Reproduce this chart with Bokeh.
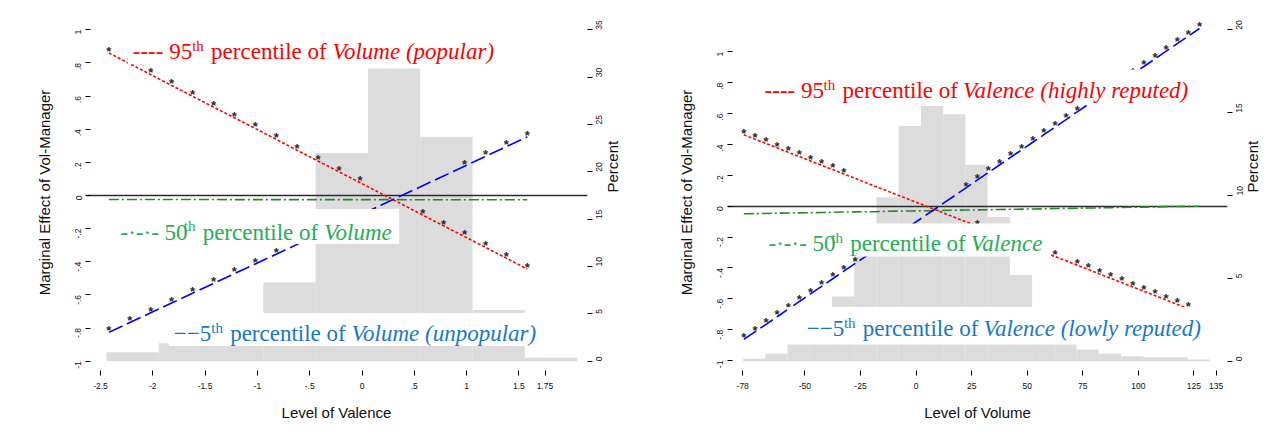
import math
from bokeh.plotting import figure
from bokeh.models import Range1d, LinearAxis, FixedTicker, Label, BoxAnnotation
from bokeh.layouts import row
from bokeh.embed import file_html
from bokeh.resources import INLINE
from bokeh.core.properties import value

# ---------------- data: left panel (Level of Valence) ----------------
valence_x = [-2.42, -2.22, -2.02, -1.82, -1.62, -1.42, -1.22, -1.02, -0.82, -0.62, -0.42,
             -0.22, -0.02, 0.18, 0.38, 0.58, 0.78, 0.98, 1.18, 1.38, 1.58]
valence_p95 = [0.860, 0.795, 0.730, 0.664, 0.599, 0.534, 0.469, 0.404, 0.339, 0.273, 0.208,
               0.143, 0.078, 0.013, -0.052, -0.118, -0.183, -0.248, -0.313, -0.378, -0.444]
valence_p95_sig = [1, 1, 1, 1, 1, 1, 1, 1, 1, 1, 1, 1, 1, 0, 0, 1, 1, 1, 1, 1, 1]
valence_p50 = [-0.024, -0.024, -0.024, -0.024, -0.024, -0.024, -0.025, -0.025, -0.025, -0.025, -0.025,
               -0.025, -0.025, -0.025, -0.025, -0.026, -0.026, -0.026, -0.026, -0.026, -0.026]
valence_p5 = [-0.826, -0.767, -0.708, -0.649, -0.590, -0.531, -0.472, -0.413, -0.354, -0.295, -0.236,
              -0.177, -0.118, -0.059, 0.000, 0.059, 0.118, 0.177, 0.236, 0.295, 0.354]
valence_p5_sig = [1, 1, 1, 1, 1, 1, 1, 1, 1, 1, 1, 1, 0, 0, 0, 0, 0, 1, 1, 1, 1]
valence_bin_edges = [-2.443, -1.943, -1.443, -0.943, -0.443, 0.057, 0.557, 1.057, 1.557, 2.057]
valence_bin_pct = [0.95, 1.9, 3.2, 8.3, 22.0, 30.9, 23.7, 5.4, 0.36]
valence_xticks = [-2.5, -2, -1.5, -1, -0.5, 0, 0.5, 1, 1.5, 1.75]
valence_xtick_labels = ["-2.5", "-2", "-1.5", "-1", "-.5", "0", ".5", "1", "1.5", "1.75"]
valence_pct_ticks = [0, 5, 10, 15, 20, 25, 30, 35]

# ---------------- data: right panel (Level of Volume) ----------------
volume_x = [-77.5, -72.5, -67.5, -62.5, -57.5, -52.5, -47.5, -42.5, -37.5, -32.5, -27.5, -22.5,
            -17.5, -12.5, -7.5, -2.5, 2.5, 7.5, 12.5, 17.5, 22.5, 27.5, 32.5, 37.5, 42.5, 47.5,
            52.5, 57.5, 62.5, 67.5, 72.5, 77.5, 82.5, 87.5, 92.5, 97.5, 102.5, 107.5, 112.5,
            117.5, 122.5, 127.5]
volume_p95 = [0.462, 0.434, 0.406, 0.378, 0.349, 0.321, 0.293, 0.265, 0.237, 0.209, 0.181, 0.152,
              0.124, 0.096, 0.068, 0.040, 0.012, -0.016, -0.045, -0.073, -0.101, -0.129, -0.157,
              -0.185, -0.213, -0.242, -0.270, -0.298, -0.326, -0.354, -0.382, -0.410, -0.439,
              -0.467, -0.495, -0.523, -0.551, -0.579, -0.607, -0.636, -0.664, -0.692]
volume_p95_sig = [1, 1, 1, 1, 1, 1, 1, 1, 1, 1, 0, 0, 0, 0, 0, 0, 0, 0, 0, 0, 0, 1, 1, 1, 1, 1,
                  1, 1, 1, 0, 1, 1, 1, 1, 1, 1, 1, 1, 1, 1, 1, 1]
volume_p50 = [-0.049, -0.048, -0.047, -0.045, -0.044, -0.043, -0.042, -0.041, -0.039, -0.038,
              -0.037, -0.036, -0.035, -0.033, -0.032, -0.031, -0.030, -0.029, -0.027, -0.026,
              -0.025, -0.024, -0.023, -0.021, -0.020, -0.019, -0.018, -0.017, -0.015, -0.014,
              -0.013, -0.012, -0.011, -0.009, -0.008, -0.007, -0.006, -0.005, -0.003, -0.002,
              -0.001, 0.000]
volume_p5 = [-0.863, -0.814, -0.765, -0.716, -0.667, -0.617, -0.568, -0.519, -0.470, -0.421,
             -0.372, -0.323, -0.274, -0.224, -0.175, -0.126, -0.077, -0.028, 0.021, 0.070,
             0.119, 0.169, 0.218, 0.267, 0.316, 0.365, 0.414, 0.463, 0.512, 0.561, 0.611,
             0.660, 0.709, 0.758, 0.807, 0.856, 0.905, 0.954, 1.004, 1.053, 1.102, 1.151]
volume_p5_sig = [1, 1, 1, 1, 1, 1, 1, 1, 1, 1, 1, 1, 1, 1, 1, 0, 0, 0, 0, 0, 1, 1, 1, 1, 1, 1,
                 1, 1, 1, 1, 1, 1, 1, 1, 1, 1, 1, 1, 1, 1, 1, 1]
volume_bin_edges = [-77.8, -67.8, -57.8, -47.8, -37.8, -27.8, -17.8, -7.8, 2.2, 12.2, 22.2, 32.2,
                    42.2, 52.2, 62.2, 72.2, 82.2, 92.2, 102.2, 112.2, 122.2, 132.2]
volume_bin_pct = [0.15, 0.45, 1.6, 2.4, 3.9, 7.4, 9.9, 14.2, 15.4, 14.9, 11.85, 8.7, 5.2, 2.8,
                  1.7, 0.7, 0.45, 0.3, 0.24, 0.24, 0.1]
volume_xticks = [-78, -50, -25, 0, 25, 50, 75, 100, 125, 135]
volume_xtick_labels = ["-78", "-50", "-25", "0", "25", "50", "75", "100", "125", "135"]
volume_pct_ticks = [0, 5, 10, 15, 20]

effect_ticks = [-1, -0.8, -0.6, -0.4, -0.2, 0, 0.2, 0.4, 0.6, 0.8, 1]
effect_tick_labels = ["-1", "-.8", "-.6", "-.4", "-.2", "0", ".2", ".4", ".6", ".8", "1"]

# ---------------- styling ----------------
RED, GREEN, BLUE = "#ff0000", "#1fae58", "#1878c8"
LINE_RED, LINE_GREEN, LINE_BLUE = "#ff0000", "#228b22", "#0000ff"
HIST = "#dcdcdc"
SERIF, SANS = "Liberation Serif", "Liberation Sans"
FS, SUP = 23, 15
STAR_SIZE = 13
STAR_LIFT_PX = 4.5          # star centre sits this far above its point
STAR_GLYPH_CENTER = 0.21    # rendered asterisk centre above the text anchor, in em

# Times / Liberation Serif advance widths (per 1000 em)
W_REG = {"-": 333, "\u00b7": 250, "\u2212": 564, " ": 250, "0": 500, "5": 500, "9": 500,
         "t": 278, "h": 500, "p": 500, "e": 444, "r": 333, "c": 444, "n": 500, "i": 278,
         "l": 278, "o": 500, "f": 333}
W_ITA = {"V": 611, "o": 500, "l": 278, "u": 500, "m": 722, "e": 444, "a": 500, "n": 500,
         "c": 444, " ": 250, "(": 333, ")": 333, "p": 500, "r": 389, "h": 500, "i": 278,
         "g": 500, "y": 444, "t": 278, "d": 500, "w": 667}


def text_w(s, italic, size):
    tab = W_ITA if italic else W_REG
    return sum(tab.get(c, 500) for c in s) * size / 1000.0


def pieces(prefix, subject):
    return [(prefix, False, FS, 0), ("th", False, SUP, 6), (" percentile of ", False, FS, 0),
            (subject, True, FS, 0)]


# page-pixel geometry of each panel (canvas origin at page 0,0)
GEOM = {
    "left": dict(canvas_w=643, border_l=85, border_r=56, frame=(85, 587),
                 xpx0=100.0, xval0=-2.5, xppu=104.6, ypx0=195.0, yppu=165.7,
                 ppx0=360.7, pppu=9.469),
    "right": dict(canvas_w=629, border_l=84, border_r=42, frame=(727, 1230),
                  xpx0=916.7, xval0=0.0, xppu=2.236, ypx0=205.7, yppu=154.4,
                  ppx0=360.7, pppu=16.57),
}
FRAME_T, FRAME_B = 14, 370
CANVAS_H = 426


def make_panel(g, xs, p95, p95s, p50, p5, p5s, edges, pct, xticks, xlabels, pticks, xtitle, labels):
    fx = lambda px: g["xval0"] + (px - g["xpx0"]) / g["xppu"]
    fy = lambda py: (g["ypx0"] - py) / g["yppu"]
    fp = lambda py: (g["ppx0"] - py) / g["pppu"]
    L, R = g["frame"]
    p = figure(width=g["canvas_w"], height=CANVAS_H, output_backend="svg", toolbar_location=None,
               x_range=Range1d(fx(L), fx(R)), y_range=Range1d(fy(FRAME_B), fy(FRAME_T)),
               min_border_left=g["border_l"], min_border_right=g["border_r"],
               min_border_top=FRAME_T, min_border_bottom=CANVAS_H - FRAME_B)
    p.extra_y_ranges = {"pct": Range1d(fp(FRAME_B), fp(FRAME_T))}
    p.outline_line_color = None
    p.xgrid.visible = False
    p.ygrid.visible = False
    p.background_fill_color = "white"
    p.border_fill_color = "white"

    def style(ax, title, ticks, tlabels):
        ax.axis_label = title
        ax.ticker = FixedTicker(ticks=ticks)
        ax.major_label_overrides = {t: s for t, s in zip(ticks, tlabels)}
        ax.axis_line_color = None
        ax.minor_tick_line_color = None
        ax.major_tick_line_color = "black"
        ax.major_tick_line_width = 1
        ax.major_label_text_font = SANS
        ax.major_label_text_font_size = "8.5px"
        ax.major_label_text_color = "#111111"
        ax.axis_label_text_font = SANS
        ax.axis_label_text_font_size = "15px"
        ax.axis_label_text_font_style = "normal"
        ax.axis_label_text_color = "#111111"

    xa = p.xaxis[0]
    style(xa, xtitle, xticks, xlabels)
    xa.major_tick_in, xa.major_tick_out = 0, 5
    xa.major_label_standoff = 7
    xa.axis_label_standoff = 12

    ya = p.yaxis[0]
    style(ya, "Marginal Effect of Vol-Manager", effect_ticks, effect_tick_labels)
    ya.major_tick_in, ya.major_tick_out = 5, 0
    ya.major_label_orientation = math.pi / 2
    ya.major_label_standoff = 7
    ya.axis_label_standoff = 17

    ra = LinearAxis(y_range_name="pct")
    style(ra, "Percent", pticks, [str(t) for t in pticks])
    ra.major_tick_in, ra.major_tick_out = 0, 5
    ra.major_label_orientation = math.pi / 2
    ra.major_label_standoff = 7
    ra.axis_label_standoff = 4
    try:
        ra.axis_label_orientation = math.pi / 2
    except Exception:
        pass
    p.add_layout(ra, "right")

    # histogram
    p.quad(left=edges[:-1], right=edges[1:], bottom=[0] * len(pct), top=pct,
           y_range_name="pct", fill_color=HIST, line_color=None)
    # zero line
    p.hspan(y=[0], line_color="#2b2b2b", line_width=1.6)
    # lines
    p.line(xs, p50, line_color=LINE_GREEN, line_width=1.6, line_dash="10 3 2 3")
    p.line(xs, p5, line_color=LINE_BLUE, line_width=1.6, line_dash="15 5")
    p.line(xs, p95, line_color=LINE_RED, line_width=1.6, line_dash="3 2")
    # significance asterisks, anchored so the glyph sits just above the point
    shift = (STAR_LIFT_PX - STAR_GLYPH_CENTER * STAR_SIZE) / g["yppu"]
    sx = [x for x, s in zip(xs, p95s) if s] + [x for x, s in zip(xs, p5s) if s]
    sy = [y + shift for y, s in zip(p95, p95s) if s] + [y + shift for y, s in zip(p5, p5s) if s]
    p.text(x=sx, y=sy, text=["*"] * len(sx), text_font=value(SANS),
           text_font_size=value(f"{STAR_SIZE}px"), text_font_style="bold",
           text_color="#2a2a2a", text_align="center", text_baseline="alphabetic")

    # legend-like labels with white boxes
    for lab in labels:
        x = lab["start"]
        placed = []
        for (s, ital, size, rise) in lab["pieces"]:
            lead = len(s) - len(s.lstrip(" "))
            placed.append((x + text_w(" " * lead, ital, size), s.strip(" "), ital, size, rise))
            x += text_w(s, ital, size) + (1.5 if s == "th" else 0)
        box_l = lab.get("box_left", lab["start"] - 5)
        box = BoxAnnotation(left=fx(box_l), right=fx(x + 5), top=fy(lab["box"][0]),
                            bottom=fy(lab["box"][1]), fill_color="white", fill_alpha=1.0,
                            line_color=None, line_alpha=0)
        p.add_layout(box)
        for (px, s, ital, size, rise) in placed:
            p.add_layout(Label(x=fx(px), y=fy(lab["base"] - rise), text=s, text_font=SERIF,
                               text_font_size=f"{size}px",
                               text_font_style="italic" if ital else "normal",
                               text_color=lab["color"], text_baseline="alphabetic",
                               text_align="left"))
    return p


left_labels = [
    dict(start=132.3, base=51.3, box=(29, 63.5), color=RED,
         pieces=pieces("---- 95", "Volume (popular)")),
    dict(start=120.0, base=231.7, box=(208.5, 243.5), color=GREEN,
         pieces=pieces("-\u00b7-\u00b7- 50", "Volume")),
    dict(start=173.3, base=333.3, box=(312.5, 345.5), color=BLUE,
         pieces=pieces("\u2212\u22125", "Volume (unpopular)")),
]
right_labels = [
    dict(start=764.3, base=90.0, box=(69, 104), color=RED,
         pieces=pieces("---- 95", "Valence (highly reputed)")),
    dict(start=768.3, base=243.0, box=(223, 256), color=GREEN,
         pieces=pieces("-\u00b7-\u00b7- 50", "Valence")),
    dict(start=806.7, base=328.3, box=(306.5, 344), box_left=787, color=BLUE,
         pieces=pieces("\u2212\u22125", "Valence (lowly reputed)")),
]

p_left = make_panel(GEOM["left"], valence_x, valence_p95, valence_p95_sig, valence_p50,
                    valence_p5, valence_p5_sig, valence_bin_edges, valence_bin_pct,
                    valence_xticks, valence_xtick_labels, valence_pct_ticks,
                    "Level of Valence", left_labels)
p_right = make_panel(GEOM["right"], volume_x, volume_p95, volume_p95_sig, volume_p50,
                     volume_p5, volume_p5_sig, volume_bin_edges, volume_bin_pct,
                     volume_xticks, volume_xtick_labels, volume_pct_ticks,
                     "Level of Volume", right_labels)

layout = row(p_left, p_right, spacing=0)
open("out.html", "w").write(file_html(layout, INLINE))
